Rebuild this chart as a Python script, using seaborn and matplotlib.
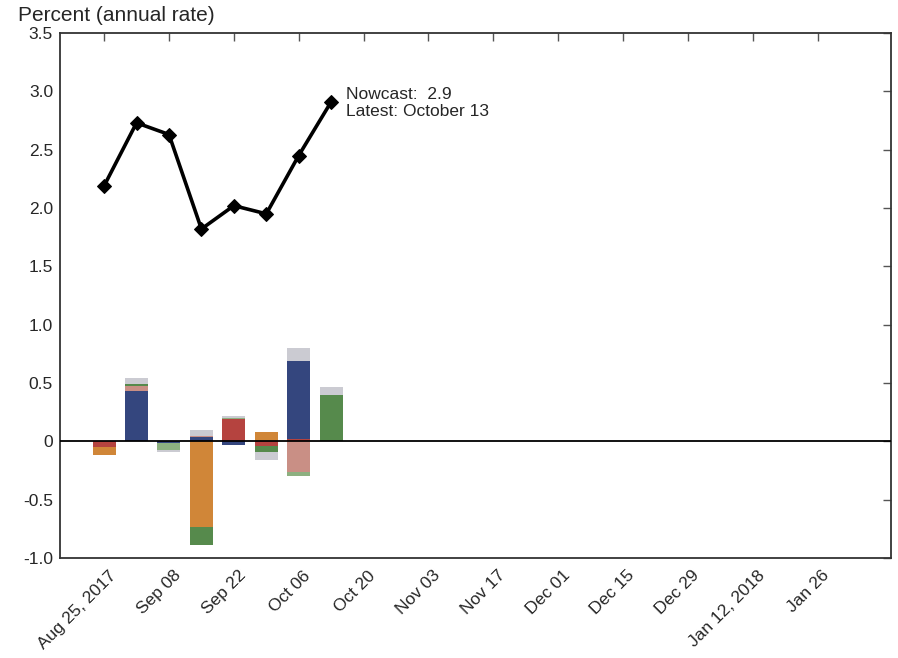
import matplotlib
matplotlib.use("Agg")
import matplotlib.pyplot as plt
import matplotlib.transforms as mtransforms
import seaborn as sns
import numpy as np
import pandas as pd

# ---- data ----
weeks = ["Aug 25", "Sep 01", "Sep 08", "Sep 15", "Sep 22", "Sep 29", "Oct 06", "Oct 13"]
nowcast = [2.19, 2.73, 2.63, 1.82, 2.02, 1.95, 2.45, 2.91]

# contributions (stack order bottom -> outward)
housing = [-0.05, 0.0, 0.0, 0.006, 0.19, -0.037, 0.02, 0.0]
manufacturing = [0.0, 0.434, -0.015, 0.03, -0.03, 0.0, 0.666, 0.0]
surveys = [0.0, 0.043, 0.0, 0.006, 0.0, 0.0, -0.26, 0.0]
retail = [-0.065, 0.0, 0.0, -0.731, 0.0, 0.077, 0.0, 0.0]
labor = [0.0, 0.014, 0.0, -0.157, 0.0, -0.051, 0.0, 0.40]
trade = [0.0, 0.0, -0.057, 0.0, 0.014, 0.0, -0.04, 0.0]
others = [0.0, 0.049, -0.023, 0.054, 0.017, -0.071, 0.114, 0.063]

factor_names = ["Housing and construction", "Manufacturing", "Surveys",
                "Retail and consumption", "Labor", "International trade", "Others"]
factor_values = [housing, manufacturing, surveys, retail, labor, trade, others]
factor_colors = ["#B5433F", "#34467E", "#C98F85", "#D08638", "#568A4C", "#8DB080", "#CBCBD2"]

tick_labels = ["Aug 25, 2017", "Sep 08", "Sep 22", "Oct 06", "Oct 20", "Nov 03",
               "Nov 17", "Dec 01", "Dec 15", "Dec 29", "Jan 12, 2018", "Jan 26"]
ytick_vals = [-1.0, -0.5, 0.0, 0.5, 1.0, 1.5, 2.0, 2.5, 3.0, 3.5]
ytick_labels = ["-1.0", "-0.5", "0", "0.5", "1.0", "1.5", "2.0", "2.5", "3.0", "3.5"]

annotation = "Nowcast:  2.9\nLatest: October 13"

# ---- plot ----
sns.set_style("white")
plt.rcParams["font.family"] = ["Liberation Sans", "DejaVu Sans"]

fig = plt.figure(figsize=(8.98, 6.58), dpi=100)
ax = fig.add_axes([60 / 898, 1 - 558 / 658, (891 - 60) / 898, (558 - 33) / 658])

x = np.arange(len(weeks))
pos_base = np.zeros(len(weeks))
neg_base = np.zeros(len(weeks))
for name, vals, col in zip(factor_names, factor_values, factor_colors):
    v = np.array(vals)
    pos = np.where(v > 0, v, 0)
    neg = np.where(v < 0, v, 0)
    ax.bar(x, pos, bottom=pos_base, width=0.71, color=col, edgecolor="none", zorder=2)
    ax.bar(x, neg, bottom=neg_base, width=0.71, color=col, edgecolor="none", zorder=2)
    pos_base += pos
    neg_base += neg

ax.axhline(0, color="black", lw=1.3, zorder=3)

df = pd.DataFrame({"x": x, "nowcast": nowcast})
sns.lineplot(data=df, x="x", y="nowcast", ax=ax, color="black", lw=2.6,
             marker="D", markersize=7.5, markeredgecolor="black", zorder=4, legend=False)

ax.text(7.45, nowcast[-1] - 0.01, annotation, fontsize=12.5, va="center", ha="left",
        linespacing=1.12)

ax.set_xlim(-1.36, 24.26)
ax.set_ylim(-1.0, 3.5)
ax.set_xticks(np.arange(0, 24, 2))
ax.set_xticklabels(tick_labels, rotation=45, ha="right", va="top", rotation_mode="anchor")
ax.set_yticks(ytick_vals)
ax.set_yticklabels(ytick_labels)
ax.set_xlabel("")
ax.set_ylabel("")
ax.tick_params(axis="both", direction="in", length=6, width=1, color="#555555",
               labelsize=12.5, top=True, right=True, pad=5)
ax.tick_params(axis="x", pad=5)
offset = mtransforms.ScaledTranslation(4 / 100, -3 / 100, fig.dpi_scale_trans)
for lbl in ax.get_xticklabels():
    lbl.set_transform(lbl.get_transform() + offset)
for s in ax.spines.values():
    s.set_color("#333333")
    s.set_linewidth(1.3)
    s.set_visible(True)
if ax.get_legend() is not None:
    ax.get_legend().remove()

fig.text(18 / 898, 1 - 6 / 658, "Percent (annual rate)", fontsize=15, va="top", ha="left")

fig.savefig("out.png", dpi=100)
